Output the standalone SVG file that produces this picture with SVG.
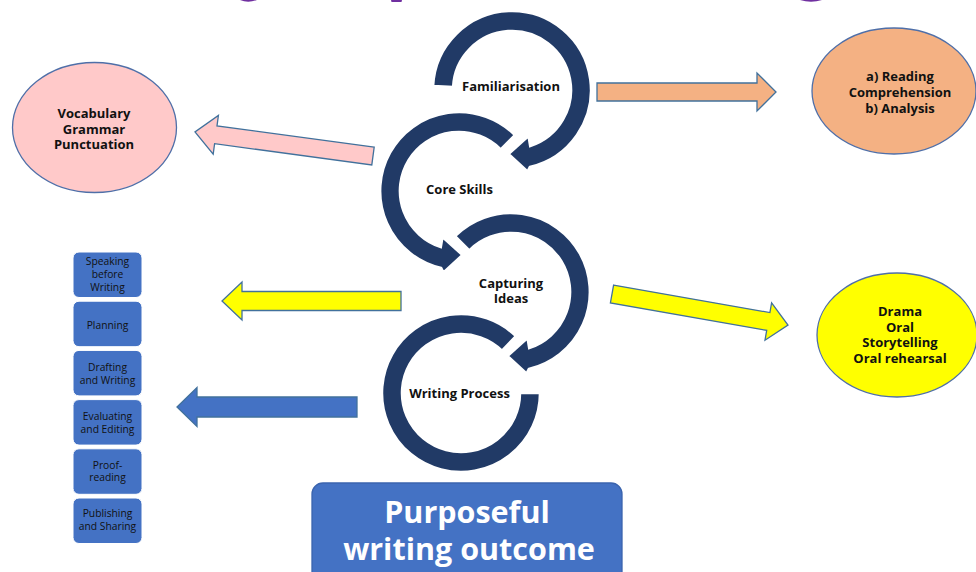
<svg xmlns="http://www.w3.org/2000/svg" width="976" height="572" viewBox="0 0 976 572">
<defs>
<style>
.cyc{fill:#213A66;stroke:#ffffff;stroke-width:2.5;stroke-linejoin:miter}
.lbl{font-family:"Open Sans","DejaVu Sans",sans-serif;font-weight:700;font-size:13px;fill:#111111;text-anchor:middle}
.ell{stroke:#4F6FA8;stroke-width:1.3}
.blk{stroke:#41719C;stroke-width:1.3;stroke-linejoin:miter}
.box{fill:#4472C4;stroke:#ffffff;stroke-width:1}
.bt{font-family:"Open Sans","DejaVu Sans",sans-serif;font-size:10.3px;fill:#111111;text-anchor:middle}
.big{font-family:"Open Sans","DejaVu Sans",sans-serif;font-weight:700;font-size:30.5px;fill:#ffffff;text-anchor:middle}
</style>
</defs>
<rect width="976" height="572" fill="#ffffff"/>
<g id="title-remnant" fill="#7030A0">
<path d="M240 0 Q248 3.5 257 0 Z"/>
<path d="M391 0 L402 0 L401.5 2 L391.5 2 Z"/>
<path d="M800 0 Q811 3.5 822 0 Z"/>
</g>
<g id="cycle">
<g id="writing-process">
<path class="cyc" d="M540 393 A79 79 0 1 1 515.9 336.2 L502 350.6 A59 59 0 1 0 520 393 Z"/>
<text class="lbl" x="459.5" y="398">Writing Process</text>
</g>
<g id="capturing-ideas">
<path class="cyc" d="M455.1 236.1 A79 79 0 1 1 528.8 369 L526.5 373.5 L507.5 356 L527.5 338 L529.2 348.1 A59 59 0 1 0 469.3 250.3 Z"/>
<text class="lbl" x="511" y="288">Capturing</text>
<text class="lbl" x="511" y="303">Ideas</text>
</g>
<g id="core-skills">
<path class="cyc" d="M514.9 135.1 A79 79 0 1 0 441.2 268 L443.5 272.5 L462.5 255 L442.5 237 L440.8 247.1 A59 59 0 1 1 500.7 149.3 Z"/>
<text class="lbl" x="459.5" y="194">Core Skills</text>
</g>
<g id="familiarisation">
<path class="cyc" d="M433.1 85.9 A79 79 0 1 1 529.8 167 L527.5 171.5 L508.5 154 L528.5 136 L530.2 146.1 A59 59 0 1 0 453.1 86.9 Z"/>
<text class="lbl" x="511" y="91">Familiarisation</text>
</g>
</g>
<g id="connectors">
<polygon class="blk" fill="#FFC9C9" points="374.2,147.1 217,125.9 218.4,115.5 195,132 213.2,154.1 214.6,143.7 371.8,164.9"/>
<polygon class="blk" fill="#F4B183" points="597,83 757,83 757,73 776,92 757,111 757,101 597,101"/>
<polygon class="blk" fill="#FFFF00" points="613.6,285.1 769.9,312.6 771.6,302.8 788,325 765,340.2 766.7,330.4 610.4,302.9"/>
<polygon class="blk" fill="#FFFF00" points="401,291.5 242,291.5 242,282 222,301 242,320 242,310.5 401,310.5"/>
<polygon class="blk" fill="#4472C4" points="357,397 197,397 197,387.5 177,407 197,426.5 197,417 357,417"/>
</g>
<g id="vocabulary">
<ellipse class="ell" cx="94.5" cy="127.5" rx="82" ry="65" fill="#FFC9C9"/>
<text class="lbl" x="94" y="118">Vocabulary</text>
<text class="lbl" x="94" y="133.5">Grammar</text>
<text class="lbl" x="94" y="149">Punctuation</text>
</g>
<g id="reading">
<ellipse class="ell" cx="894" cy="91" rx="82" ry="63" fill="#F4B183"/>
<text class="lbl" x="900" y="81">a) Reading</text>
<text class="lbl" x="900" y="97">Comprehension</text>
<text class="lbl" x="900" y="113">b) Analysis</text>
</g>
<g id="drama">
<ellipse class="ell" cx="897" cy="335" rx="80" ry="62" fill="#FFFF00"/>
<text class="lbl" x="900" y="316">Drama</text>
<text class="lbl" x="900" y="331.5">Oral</text>
<text class="lbl" x="900" y="347">Storytelling</text>
<text class="lbl" x="900" y="362.5">Oral rehearsal</text>
</g>
<g id="speaking">
<rect class="box" x="73" y="252" width="69" height="45.5" rx="6"/>
<text class="bt" x="107.5" y="265">Speaking</text>
<text class="bt" x="107.5" y="278">before</text>
<text class="bt" x="107.5" y="291">Writing</text>
</g>
<g id="planning">
<rect class="box" x="73" y="301.2" width="69" height="45.5" rx="6"/>
<text class="bt" x="107.5" y="328.5">Planning</text>
</g>
<g id="drafting">
<rect class="box" x="73" y="350.4" width="69" height="45.5" rx="6"/>
<text class="bt" x="107.5" y="371">Drafting</text>
<text class="bt" x="107.5" y="384">and Writing</text>
</g>
<g id="evaluating">
<rect class="box" x="73" y="399.6" width="69" height="45.5" rx="6"/>
<text class="bt" x="107.5" y="420">Evaluating</text>
<text class="bt" x="107.5" y="432.5">and Editing</text>
</g>
<g id="proofreading">
<rect class="box" x="73" y="448.8" width="69" height="45.5" rx="6"/>
<text class="bt" x="107.5" y="469">Proof-</text>
<text class="bt" x="107.5" y="481">reading</text>
</g>
<g id="publishing">
<rect class="box" x="73" y="498" width="69" height="45.5" rx="6"/>
<text class="bt" x="107.5" y="517">Publishing</text>
<text class="bt" x="107.5" y="530">and Sharing</text>
</g>
<g id="outcome">
<rect x="312" y="483" width="310" height="110" rx="11" fill="#4472C4" stroke="#3B64AE" stroke-width="1.3"/>
<text class="big" x="467" y="523">Purposeful</text>
<text class="big" x="469" y="560">writing outcome</text>
</g>
</svg>
